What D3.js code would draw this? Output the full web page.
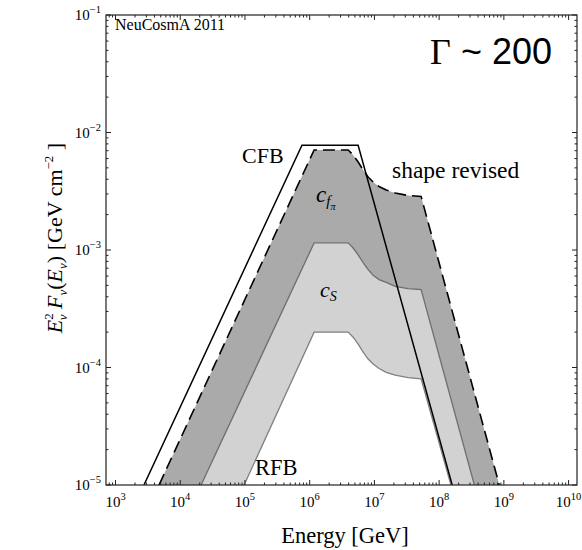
<!DOCTYPE html>
<html>
<head>
<meta charset="utf-8">
<script src="https://cdn.jsdelivr.net/npm/d3@7"></script>
<style>
  body { margin: 0; background: #fff; }
  text { font-family: "Liberation Serif", "DejaVu Serif", serif; fill: #000; }
</style>
</head>
<body>
<svg id="chart" width="582" height="550"></svg>
<script>
// Axis ticks (powers of ten)
const energyExponents = [3, 4, 5, 6, 7, 8, 9, 10];
const fluxExponents = [-5, -4, -3, -2, -1];

// CFB: solid black envelope
const cfbEnergy = [2.75e3, 7.6e5, 5.6e6, 1.59e8];
const cfbFlux   = [1e-5, 7.8e-3, 7.8e-3, 1e-5];

// Upper edge of the c_fπ band ("shape revised"), dashed
const revisedEnergy = [4.7e3, 1.17e6, 3.93e6, 4.69e6, 5.61e6, 6.70e6, 8.00e6, 9.55e6, 1.18e7, 1.52e7, 2.09e7, 3.32e7, 5.27e7, 8.5e8];
const revisedFlux   = [1e-5, 7.1e-3, 7.1e-3, 6.44e-3, 5.61e-3, 4.80e-3, 4.18e-3, 3.79e-3, 3.47e-3, 3.24e-3, 3.05e-3, 2.91e-3, 2.85e-3, 1e-5];

// Boundary between the c_fπ and c_S bands
const csEnergy = [2.1e4, 1.17e6, 3.93e6, 4.69e6, 5.61e6, 6.70e6, 8.00e6, 9.55e6, 1.18e7, 1.52e7, 2.09e7, 3.32e7, 5.27e7, 3.5e8];
const csFlux   = [1e-5, 1.15e-3, 1.15e-3, 1.04e-3, 9.1e-4, 7.8e-4, 6.8e-4, 6.1e-4, 5.6e-4, 5.3e-4, 4.9e-4, 4.7e-4, 4.6e-4, 1e-5];

// RFB: lower edge of the c_S band
const rfbEnergy = [9.7e4, 1.17e6, 3.93e6, 4.69e6, 5.61e6, 6.70e6, 8.00e6, 9.55e6, 1.18e7, 1.52e7, 2.09e7, 3.32e7, 5.27e7, 1.52e8];
const rfbFlux   = [1e-5, 2.0e-4, 2.0e-4, 1.81e-4, 1.58e-4, 1.35e-4, 1.18e-4, 1.07e-4, 9.8e-5, 9.1e-5, 8.6e-5, 8.2e-5, 8.0e-5, 1e-5];

const svg = d3.select("#chart");
const box = { left: 106, top: 15, right: 577, bottom: 485 };

const x = d3.scaleLog().domain([Math.pow(10, 2.853), Math.pow(10, 10.13)]).range([box.left, box.right]);
const y = d3.scaleLog().domain([1e-5, 1e-1]).range([box.bottom, box.top]);

const pts = (es, fs) => es.map((e, i) => [e, fs[i]]);
const line = d3.line().x(d => x(d[0])).y(d => y(d[1]));

svg.append("defs").append("clipPath").attr("id", "plot-clip")
  .append("rect").attr("x", box.left).attr("y", box.top)
  .attr("width", box.right - box.left).attr("height", box.bottom - box.top);

const plot = svg.append("g").attr("clip-path", "url(#plot-clip)");

const revised = pts(revisedEnergy, revisedFlux);
const cs = pts(csEnergy, csFlux);
const rfb = pts(rfbEnergy, rfbFlux);
const cfb = pts(cfbEnergy, cfbFlux);

// Bands
plot.append("path").attr("d", line(revised.concat(cs.slice().reverse())) + "Z")
  .attr("fill", "#aaaaaa").attr("stroke", "none");
plot.append("path").attr("d", line(cs.concat(rfb.slice().reverse())) + "Z")
  .attr("fill", "#d2d2d2").attr("stroke", "none");

// Band edges
plot.append("path").attr("d", line(cs)).attr("fill", "none")
  .attr("stroke", "#6e6e6e").attr("stroke-width", 1.3);
plot.append("path").attr("d", line(rfb)).attr("fill", "none")
  .attr("stroke", "#808080").attr("stroke-width", 1.3);
plot.append("path").attr("d", line(revised)).attr("fill", "none")
  .attr("stroke", "#000").attr("stroke-width", 1.6).attr("stroke-dasharray", "12,6");
plot.append("path").attr("d", line(cfb)).attr("fill", "none")
  .attr("stroke", "#000").attr("stroke-width", 1.5);

// Frame with ticks on all four sides
const frame = svg.append("g");
frame.append("rect").attr("x", box.left).attr("y", box.top)
  .attr("width", box.right - box.left).attr("height", box.bottom - box.top)
  .attr("fill", "none").attr("stroke", "#222").attr("stroke-width", 1.2);

const majorLen = 5, minorLen = 2.5;
const [x0, x1] = x.domain();
const [y0, y1] = y.domain();
const xTicks = [], yTicks = [];
for (let p = 2; p <= 10; p++) for (let m = 1; m <= 9; m++) {
  const v = m * Math.pow(10, p);
  if (v >= x0 && v <= x1) xTicks.push({ v, major: m === 1 });
}
for (let p = -5; p <= -1; p++) for (let m = 1; m <= 9; m++) {
  const v = m * Math.pow(10, p);
  if (v >= y0 * 0.999 && v <= y1 * 1.001) yTicks.push({ v, major: m === 1 });
}
xTicks.forEach(t => {
  const px = x(t.v), len = t.major ? majorLen : minorLen;
  frame.append("line").attr("x1", px).attr("x2", px).attr("y1", box.bottom).attr("y2", box.bottom - len)
    .attr("stroke", "#222").attr("stroke-width", 1);
  frame.append("line").attr("x1", px).attr("x2", px).attr("y1", box.top).attr("y2", box.top + len)
    .attr("stroke", "#222").attr("stroke-width", 1);
});
yTicks.forEach(t => {
  const py = y(t.v), len = t.major ? majorLen : minorLen;
  frame.append("line").attr("x1", box.left).attr("x2", box.left + len).attr("y1", py).attr("y2", py)
    .attr("stroke", "#222").attr("stroke-width", 1);
  frame.append("line").attr("x1", box.right).attr("x2", box.right - len).attr("y1", py).attr("y2", py)
    .attr("stroke", "#222").attr("stroke-width", 1);
});

// Tick labels: 10 with superscript exponent
energyExponents.forEach(e => {
  const t = svg.append("text").attr("x", x(Math.pow(10, e))).attr("y", 507)
    .attr("text-anchor", "middle").attr("font-size", 15);
  t.append("tspan").text("10");
  t.append("tspan").attr("font-size", 10.5).attr("dy", -7).text(String(e));
});
fluxExponents.forEach(e => {
  const t = svg.append("text").attr("x", 101).attr("y", y(Math.pow(10, e)) + 5)
    .attr("text-anchor", "end").attr("font-size", 15);
  t.append("tspan").text("10");
  t.append("tspan").attr("font-size", 10.5).attr("dy", -7).text("\u2212" + Math.abs(e));
});

// Axis titles
svg.append("text").attr("x", 345).attr("y", 543).attr("text-anchor", "middle")
  .attr("font-size", 22.5).text("Energy [GeV]");

const yt = svg.append("text").attr("transform", "translate(62,238) rotate(-90)")
  .attr("text-anchor", "middle").attr("font-size", 22).attr("fill", "#333");
yt.append("tspan").attr("font-style", "italic").text("E");
yt.append("tspan").attr("font-size", 13).attr("dy", -9).text("2");
yt.append("tspan").attr("font-size", 13).attr("font-style", "italic").attr("dx", -7).attr("dy", 14).text("\u03bd");
yt.append("tspan").attr("font-style", "italic").attr("dy", -5).text(" F");
yt.append("tspan").attr("font-size", 13).attr("font-style", "italic").attr("dy", 5).text("\u03bd");
yt.append("tspan").attr("dy", -5).text("(");
yt.append("tspan").attr("font-style", "italic").text("E");
yt.append("tspan").attr("font-size", 13).attr("font-style", "italic").attr("dy", 5).text("\u03bd");
yt.append("tspan").attr("dy", -5).text(") [GeV cm");
yt.append("tspan").attr("font-size", 13).attr("dy", -9).text("\u22122");
yt.append("tspan").attr("dy", 9).text(" ]");

// In-plot labels
svg.append("text").attr("x", 115).attr("y", 30).attr("font-size", 16).text("NeuCosmA 2011");

const g = svg.append("text").attr("x", 552).attr("y", 64).attr("text-anchor", "end").attr("font-size", 36);
g.append("tspan").text("\u0393");
g.append("tspan").attr("font-family", "'Liberation Sans', Arial, sans-serif").text(" ~ 200");

svg.append("text").attr("x", 242).attr("y", 163).attr("font-size", 22).text("CFB");
svg.append("text").attr("x", 392).attr("y", 178).attr("font-size", 23.5).text("shape revised");
svg.append("text").attr("x", 255).attr("y", 475).attr("font-size", 22.5).text("RFB");

const cf = svg.append("text").attr("x", 316).attr("y", 202).attr("font-size", 23).attr("font-style", "italic");
cf.append("tspan").text("c");
cf.append("tspan").attr("font-size", 15).attr("dy", 4).text("f");
cf.append("tspan").attr("font-size", 10).attr("dy", 4).text("\u03c0");

const csl = svg.append("text").attr("x", 320).attr("y", 297).attr("font-size", 22).attr("font-style", "italic");
csl.append("tspan").text("c");
csl.append("tspan").attr("font-size", 14).attr("dy", 4).text("S");
</script>
</body>
</html>
